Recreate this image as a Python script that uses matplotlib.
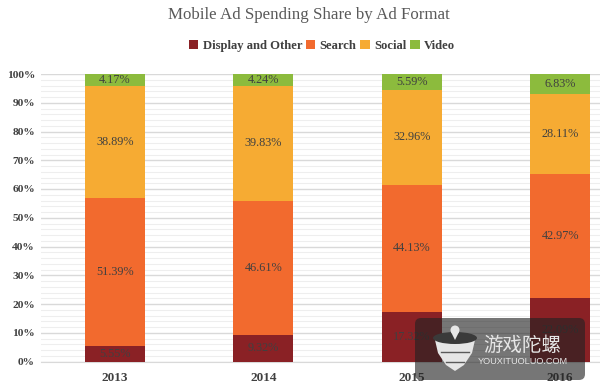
import matplotlib
matplotlib.use("Agg")
import numpy as np
import matplotlib.pyplot as plt
from matplotlib.patches import FancyBboxPatch, Polygon, Ellipse, Circle

plt.rcParams["font.family"] = ["Liberation Serif", "DejaVu Serif"]

years = ["2013", "2014", "2015", "2016"]
display_other = [5.55, 9.32, 17.32, 22.09]
search = [51.39, 46.61, 44.13, 42.97]
social = [38.89, 39.83, 32.96, 28.11]
video = [4.17, 4.24, 5.59, 6.83]

series_names = ["Display and Other", "Search", "Social", "Video"]
series_values = [display_other, search, social, video]
series_colors = ["#8a2125", "#f26a2e", "#f6ab33", "#8cbb3d"]
label_color = "#404040"

W, H = 600, 390
fig = plt.figure(figsize=(W / 100, H / 100), dpi=100)
# axes placed in pixels: x 41-600, y 74-361.5 from the top
ax = fig.add_axes([41 / W, 1 - 361.5 / H, (600 - 41) / W, 287.5 / H])

x = np.arange(len(years))
bottom = np.zeros(len(years))
for name, vals, col in zip(series_names, series_values, series_colors):
    vals = np.array(vals)
    ax.bar(x, vals, 0.405, bottom=bottom, color=col, label=name, zorder=3)
    for xi, b, v in zip(x, bottom, vals):
        ax.text(xi, b + v / 2, f"{v:.2f}%", ha="center", va="center",
                fontsize=8.8, color=label_color, zorder=4)
    bottom += vals

# 1 unit = 148.4 px, first bar centre at 115 px
ax.set_xlim(-(115 - 41) / 148.4, (600 - 115) / 148.4)
ax.set_ylim(0, 100)
ax.set_xticks(x)
ax.set_xticklabels(years, fontsize=9.5, fontweight="bold", color=label_color)
ax.set_yticks(np.arange(0, 101, 10))
ax.set_yticklabels([f"{v}%" for v in range(0, 101, 10)], fontsize=8.2,
                    fontweight="bold", color=label_color)
ax.set_yticks(np.arange(0, 101, 2), minor=True)
ax.tick_params(axis="both", which="both", length=0)
ax.tick_params(axis="x", pad=7.5)
ax.tick_params(axis="y", pad=4.3)
ax.grid(True, axis="y", which="major", color="#d9d9d9", lw=1.0, zorder=0)
ax.grid(True, axis="y", which="minor", color="#eeeeee", lw=0.8, zorder=0)
for s in ax.spines.values():
    s.set_visible(False)
ax.spines["bottom"].set_visible(True)
ax.spines["bottom"].set_color("#d9d9d9")

fig.text(309 / W, 1 - 15 / H, "Mobile Ad Spending Share by Ad Format", ha="center",
         va="center", fontsize=12.2, color="#595959")
fig.legend(loc="center", bbox_to_anchor=(322 / W, 1 - 46 / H), ncol=4, frameon=False,
           handlelength=0.75, handleheight=0.75, handletextpad=0.35, columnspacing=0.3,
           borderpad=0, prop={"size": 9.1, "weight": "bold"}, labelcolor=label_color)

# watermark overlay, in image pixels
wm = fig.add_axes([0, 0, 1, 1], zorder=10)
wm.set_xlim(0, W)
wm.set_ylim(H, 0)
wm.axis("off")
wm.add_patch(FancyBboxPatch((420, 323), 160, 52, boxstyle="round,pad=5,rounding_size=6",
                            fc="#222222", ec="none", alpha=0.62))
logo = "#e6e6e6"
wm.add_patch(Polygon([[435, 340], [475, 340], [472, 353], [464, 365], [455, 371],
                      [446, 365], [438, 353]], closed=True, fc=logo, ec="none"))
wm.add_patch(Ellipse((455, 338), 44, 12, fc="#3a3a3a", ec="none"))
wm.add_patch(Circle((455, 330), 4.5, fc=logo, ec="none"))
wm.add_patch(Polygon([[451, 332], [459, 332], [455, 340]], closed=True, fc=logo, ec="none"))
wm.plot([441, 469], [352, 352], color="#5a5a5a", lw=1.0)
wm.plot([446, 464], [362, 362], color="#5a5a5a", lw=1.0)
wm.text(522.5, 345, "游戏陀螺", family=["Noto Sans CJK SC", "DejaVu Sans"], ha="center",
        va="center", fontsize=14, color="#e6e6e6")
wm.text(523, 361, "YOUXITUOLUO.COM", family=["Liberation Sans"], ha="center", va="center",
        fontsize=6.6, color="#e6e6e6")

fig.savefig("out.png", dpi=100, facecolor="white")
